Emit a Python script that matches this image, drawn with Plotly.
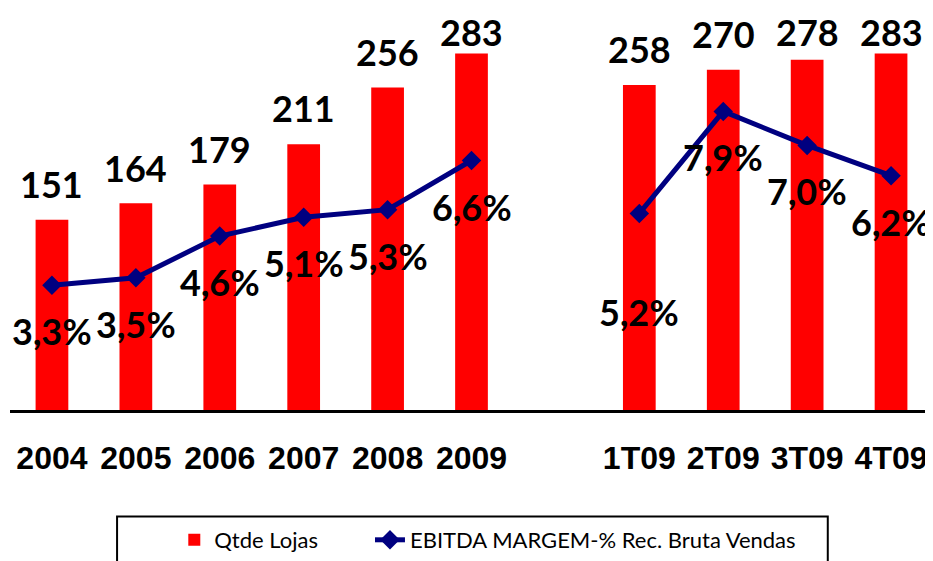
import plotly.graph_objects as go

# dados
anos = ["2004", "2005", "2006", "2007", "2008", "2009"]
trimestres = ["1T09", "2T09", "3T09", "4T09"]
lojas_anos = [151, 164, 179, 211, 256, 283]
lojas_trim = [258, 270, 278, 283]
margem_anos = [3.3, 3.5, 4.6, 5.1, 5.3, 6.6]
margem_trim = [5.2, 7.9, 7.0, 6.2]

# espaco vazio entre os anos e os trimestres
categorias = anos + [" "] + trimestres
lojas = lojas_anos + [None] + lojas_trim
margem = margem_anos + [None] + margem_trim

Y_MAX = 300
DESLOC_LOJAS = 28.4  # distancia do rotulo acima da barra (unidades de y)
desloc_margem = {"1T09": -99}  # rotulos que ficam mais abaixo

fig = go.Figure()
fig.add_trace(go.Bar(x=categorias, y=lojas, name="Qtde Lojas", legend="legend",
                     marker=dict(color="#FF0000", line=dict(width=0)),
                     width=0.39))
fig.add_trace(go.Scatter(x=categorias, y=margem, yaxis="y2", legend="legend2",
                         name="EBITDA MARGEM-% Rec. Bruta Vendas",
                         mode="lines+markers", connectgaps=False,
                         line=dict(color="#000080", width=5),
                         marker=dict(symbol="diamond", size=15, color="#000080")))

# rotulos das barras (x pelo indice da categoria)
for i, v in enumerate(lojas):
    if v is None:
        continue
    fig.add_annotation(x=i, y=min(v + DESLOC_LOJAS, Y_MAX), yref="y", text=str(v),
                       showarrow=False, yanchor="middle",
                       font=dict(family="Lato", size=36, color="black", weight="bold"))

# rotulos da margem
for i, (c, v) in enumerate(zip(categorias, margem)):
    if v is None:
        continue
    fig.add_annotation(x=i, y=v, yref="y2", text=f"{v:.1f}%".replace(".", ","),
                       showarrow=False, yanchor="middle", yshift=desloc_margem.get(c, -46),
                       font=dict(family="Lato", size=36, color="black", weight="bold"))

# moldura da legenda
fig.add_shape(type="rect", xref="paper", yref="paper",
              x0=0.116, x1=0.886, y0=-0.6, y1=-0.2816,
              line=dict(color="black", width=2))

fonte_legenda = dict(family="Lato", size=22, color="black")

# a pagina tem 8px de margem no body, por isso 925x553
fig.update_layout(
    width=925, height=553,
    margin=dict(l=2, r=0, t=24, b=149),
    plot_bgcolor="white", paper_bgcolor="white",
    xaxis=dict(type="category", categoryorder="array", categoryarray=categorias,
               range=[-0.5, len(categorias) - 0.5],
               showline=True, linecolor="black", linewidth=3, ticks="",
               showgrid=False, zeroline=False, ticklabelstandoff=18,
               tickfont=dict(family="Liberation Sans", size=32, color="black", weight="bold")),
    yaxis=dict(range=[0, Y_MAX], visible=False, showgrid=False),
    yaxis2=dict(range=[0, 10], overlaying="y", visible=False, showgrid=False),
    showlegend=True,
    legend=dict(orientation="h", x=0.178, xanchor="left", y=-0.29, yanchor="top",
                font=fonte_legenda, bgcolor="rgba(0,0,0,0)"),
    legend2=dict(orientation="h", x=0.39, xanchor="left", y=-0.29, yanchor="top",
                 font=fonte_legenda, bgcolor="rgba(0,0,0,0)"),
)

fig.write_html("out.html")
